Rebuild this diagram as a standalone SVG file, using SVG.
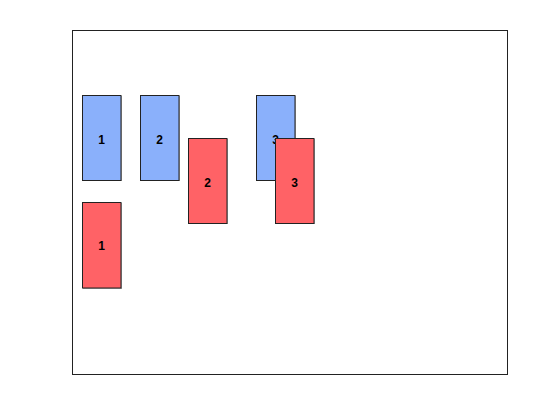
<svg xmlns="http://www.w3.org/2000/svg" width="560" height="420" viewBox="0 0 560 420">
<style>
.frame{fill:#fff;stroke:#222;stroke-width:1}
.sh{fill:#777;opacity:0.6}
.b{fill:#8ab0fb;stroke:#222;stroke-width:1}
.r{fill:#ff6266;stroke:#222;stroke-width:1}
text{font-family:"Liberation Sans",Arial,sans-serif;font-weight:bold;font-size:12px;fill:#000;text-anchor:middle;dominant-baseline:central}
</style>
<rect width="560" height="420" fill="#fff"/>
<rect class="frame" x="72.5" y="30.5" width="435" height="344"/>
<g id="b1"><rect class="sh" x="83" y="96" width="39" height="85"/><rect class="b" x="82.5" y="95.5" width="38.5" height="85"/><text x="101.5" y="140">1</text></g>
<g id="b2"><rect class="sh" x="141" y="96" width="39" height="85"/><rect class="b" x="140.5" y="95.5" width="38.5" height="85"/><text x="159.5" y="140">2</text></g>
<g id="b3"><rect class="sh" x="257" y="96" width="39" height="85"/><rect class="b" x="256.5" y="95.5" width="38.5" height="85"/><text x="275.5" y="140">3</text></g>
<g id="r1"><rect class="sh" x="83" y="203" width="39" height="86"/><rect class="r" x="82.5" y="202.5" width="38.5" height="85.5"/><text x="101.5" y="246">1</text></g>
<g id="r2"><rect class="sh" x="189" y="139" width="39" height="85"/><rect class="r" x="188.5" y="138.5" width="38.5" height="85"/><text x="207.5" y="183">2</text></g>
<g id="r3"><rect class="sh" x="276" y="139" width="39" height="85"/><rect class="r" x="275.5" y="138.5" width="38.5" height="85"/><text x="294.5" y="183">3</text></g>
<g id="connectors"/>
</svg>
